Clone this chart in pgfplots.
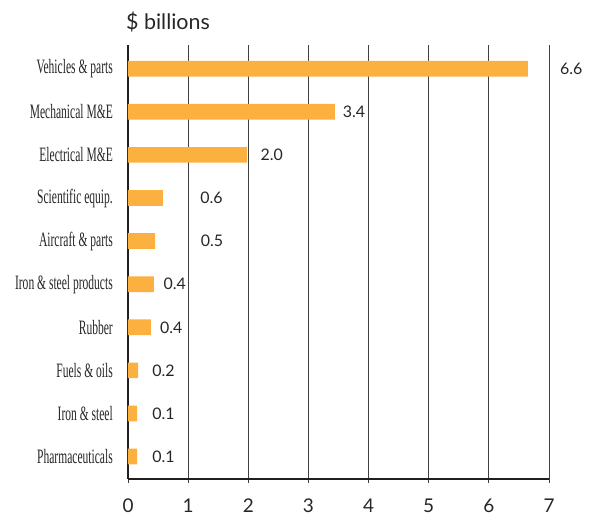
\documentclass[border=0pt]{standalone}
\usepackage{graphicx}
\usepackage{pgfplots}
\pgfplotsset{compat=1.18}
\usepackage{fontspec}
\setmainfont{Lato}
\newfontfamily\labfont{Liberation Serif}
\definecolor{barorange}{HTML}{FBB040}
\definecolor{axisdark}{HTML}{231F20}
\newcommand{\cond}[1]{\scalebox{0.565}[1]{\labfont\fontsize{20.5}{20.5}\selectfont #1}}
\begin{document}
\begin{tikzpicture}
\begin{axis}[
  at={(0,0)}, anchor=south west,
  scale only axis, width=421bp, height=434bp,
  xmin=0, xmax=7, ymin=-0.52, ymax=9.55,
  axis lines*=left,
  axis line style={line width=2bp, color=axisdark},
  xtick={0,...,7},
  xmajorgrids,
  grid style={black!75, line width=0.9bp},
  xtick align=outside,
  major tick length=4bp,
  x tick style={black!75, line width=0.9bp},
  ytick={0,...,9},
  yticklabels={\cond{Pharmaceuticals},\cond{Iron \& steel},\cond{Fuels \& oils},\cond{Rubber},\cond{Iron \& steel products},\cond{Aircraft \& parts},\cond{Scientific equip.},\cond{Electrical M\&E},\cond{Mechanical M\&E},\cond{Vehicles \& parts}},
  y tick style={draw=none},
  yticklabel style={inner sep=0pt, anchor=east, xshift=-15bp, text=black!85},
  xticklabel style={inner sep=0pt, anchor=north, yshift=-16bp, font=\fontsize{19}{19}\selectfont, text=black!85},
  /pgf/number format/assume math mode=true,
  clip=false,
]
\addplot[xbar, fill=barorange, draw=none, bar width=15.7bp, bar shift=0pt]
  coordinates {(0.15,0) (0.15,1) (0.17,2) (0.38,3) (0.43,4) (0.45,5) (0.58,6) (1.98,7) (3.44,8) (6.65,9)};
\addplot[draw=none, mark=none, nodes near coords, point meta=explicit symbolic,
  nodes near coords align=horizontal,
  every node near coord/.append style={anchor=west, inner sep=0pt, font=\fontsize{16}{16}\selectfont, text=black!85}]
  coordinates {(0.40,0) [0.1] (0.40,1) [0.1] (0.40,2) [0.2] (0.53,3) [0.4] (0.59,4) [0.4] (1.21,5) [0.5] (1.20,6) [0.6] (2.20,7) [2.0] (3.57,8) [3.4] (7.18,9) [6.6]};
\node[anchor=base west, inner sep=0pt, font=\fontsize{21.5}{21.5}\selectfont, text=black!85] at (rel axis cs:0,1) [xshift=-2bp, yshift=15bp] {\$ billions};
\end{axis}
\path (-128bp,-39bp) rectangle (466bp,479bp);
\end{tikzpicture}
\end{document}
